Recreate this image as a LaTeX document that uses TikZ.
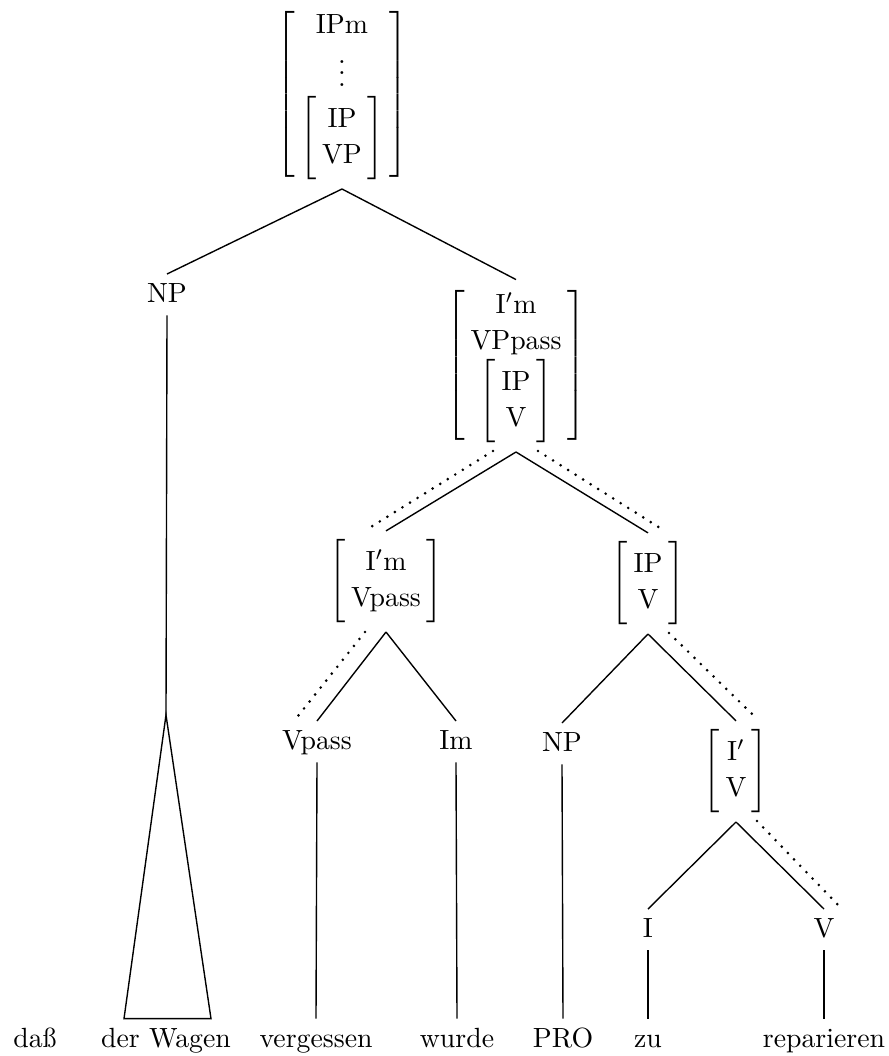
\documentclass[tikz,border=0pt]{standalone}
\usepackage{tikz}
\usetikzlibrary{calc}

% feature structure in square brackets (optional arg: delimiter shortfall)
\newcommand{\fstruct}[2][-1.8pt]{$\delimitershortfall=#1\left[\setlength{\tabcolsep}{2pt}\renewcommand{\arraystretch}{1.07}\begin{tabular}{c}#2\end{tabular}\right]$}

\tikzset{
  treebox/.style={inner sep=3pt, anchor=south},
  catnode/.style={inner sep=3pt, anchor=north, text height=7pt, text depth=1.5pt},
  wordnode/.style={inner sep=3pt, anchor=base, text height=7pt, text depth=2pt},
  branch/.style={line width=0.5pt},
  tracebranch/.style={line width=1.05pt, line cap=round, dash pattern=on 0pt off 3.2pt}
}

\begin{document}
\begin{tikzpicture}[x=0.36pt, y=-0.36pt]
  \useasboundingbox (0,0) rectangle (889,1056);

  % bracket nodes (placed by their lower tip)
  \node[treebox] (root) at (342,189) {\fstruct[5pt]{IPm\\ $\vdots$\\ \fstruct{IP\\ VP}}};
  \node[treebox] (ipm) at (516,452) {\fstruct[5pt]{I$'$m\\ VPpass\\ \fstruct{IP\\ V}}};
  \node[treebox] (imv) at (386,632) {\fstruct{I$'$m\\ Vpass}};
  \node[treebox] (ipv) at (648,634) {\fstruct{IP\\ V}};
  \node[treebox] (ibar) at (736,822) {\fstruct{I$'$\\ V}};

  % category labels
  \node[catnode] (np1) at (167,274) {NP};
  \node[catnode] (vpass) at (317,721) {Vpass};
  \node[catnode] (im) at (456,721) {Im};
  \node[catnode] (np2) at (562,723) {NP};
  \node[catnode] (ihead) at (648,909) {I};
  \node[catnode] (vhead) at (824,909) {V};

  % words
  \node[wordnode] (dass) at (35,1047) {daß};
  \node[wordnode] (wagen) at (166,1047) {der Wagen};
  \node[wordnode] (vergessen) at (316,1047) {vergessen};
  \node[wordnode] (wurde) at (457,1047) {wurde};
  \node[wordnode] (pro) at (563,1047) {PRO};
  \node[wordnode] (zu) at (648,1047) {zu};
  \node[wordnode] (reparieren) at (824,1047) {reparieren};

  % branches
  \draw[branch] (root.south) -- (np1.north);
  \draw[branch] (root.south) -- (ipm.north);
  \draw[branch] (ipm.south) -- (imv.north);
  \draw[branch] (ipm.south) -- (ipv.north);
  \draw[branch] (imv.south) -- (vpass.north);
  \draw[branch] (imv.south) -- (im.north);
  \draw[branch] (ipv.south) -- (np2.north);
  \draw[branch] (ipv.south) -- (ibar.north);
  \draw[branch] (ibar.south) -- (ihead.north);
  \draw[branch] (ibar.south) -- (vhead.north);

  \draw[branch] (vpass.south) -- (vergessen.north);
  \draw[branch] (im.south) -- (wurde.north);
  \draw[branch] (np2.south) -- (pro.north);
  \draw[branch] (ihead.south) -- (zu.north);
  \draw[branch] (vhead.south) -- (reparieren.north);

  % triangle over der Wagen
  \coordinate (tritop) at (166,715);
  \draw[branch] (np1.south) -- (tritop);
  \draw[branch] (tritop) -- ($(wagen.north)+(-42,0)$) -- ($(wagen.north)+(45,0)$) -- cycle;

  % head path (dotted)
  \draw[tracebranch] ($(ipm.south)+(-23,-1)$) -- ($(imv.north)+(-15,-4)$);
  \draw[tracebranch] ($(ipm.south)+(22,-1)$) -- ($(ipv.north)+(15,-3)$);
  \draw[tracebranch] ($(imv.south)+(-21,0)$) -- ($(vpass.north)+(-19,-5)$);
  \draw[tracebranch] ($(ipv.south)+(21,-1)$) -- ($(ibar.north)+(18,-5)$);
  \draw[tracebranch] ($(ibar.south)+(21,-1)$) -- ($(vhead.north)+(17,-1)$);
\end{tikzpicture}
\end{document}
